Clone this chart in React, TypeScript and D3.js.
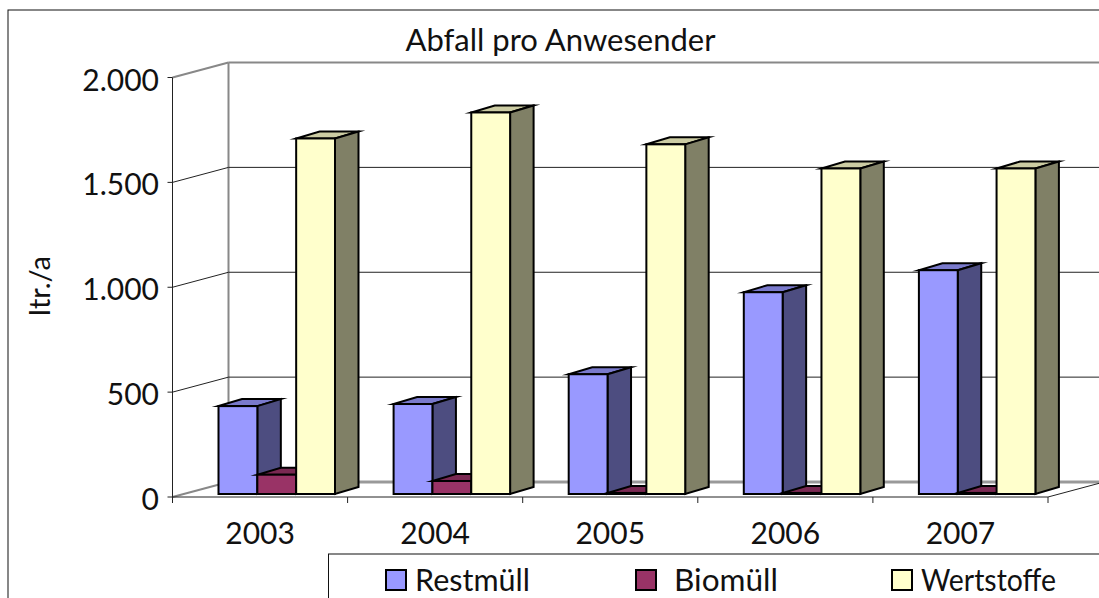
import React from 'react';
import * as d3 from 'd3';

const years = ['2003', '2004', '2005', '2006', '2007'];
const seriesNames = ['Restmüll', 'Biomüll', 'Wertstoffe'];
const restmuell = [419, 429, 571, 962, 1067];
const biomuell = [92, 62, 5, 5, 5];
const wertstoffe = [1695, 1819, 1667, 1552, 1552];
const yTicks = [0, 500, 1000, 1500, 2000];

const seriesValues = [restmuell, biomuell, wertstoffe];
const frontColors = ['#9999ff', '#993366', '#ffffcc'];
const sideColors = ['#4d4d80', '#4d1a33', '#808066'];
const topColors = ['#7a7acc', '#7a2952', '#cccca3'];

const W = 1099;
const H = 598;
const FONT = 'Lato, sans-serif';

// 3d offsets: back wall, and the bars sitting inside the floor
const wallDx = 56;
const wallDy = -15;
const barGapDy = -3;
const barDx = 23.5;
const barDy = -7;

const xScale = d3.scaleBand().domain(years).range([172.5, 1048]);
const seriesScale = d3.scaleBand().domain(seriesNames).range([46, 162.5]);
const yScale = d3.scaleLinear().domain([0, 2000]).range([497, 77.5]);
const fmt = d3.formatLocale({ decimal: ',', thousands: '.', grouping: [3], currency: ['', '€'] }).format(',d');

function Bar({ x, w, y, y0, i }: { x: number; w: number; y: number; y0: number; i: number }) {
  const pts = (p: number[][]) => p.map(d => d.join(',')).join(' ');
  return (
    <g stroke="#000" strokeWidth={2} strokeLinejoin="miter" strokeMiterlimit={10}>
      <polygon points={pts([[x, y], [x + w, y], [x + w + barDx, y + barDy], [x + barDx, y + barDy]])} fill={topColors[i]} />
      <polygon points={pts([[x + w, y], [x + w + barDx, y + barDy], [x + w + barDx, y0 + barDy], [x + w, y0]])} fill={sideColors[i]} />
      <rect x={x} y={y} width={w} height={y0 - y} fill={frontColors[i]} />
    </g>
  );
}

export default function App() {
  const x0 = xScale.range()[0];
  const x1 = xScale.range()[1];
  const y0 = yScale(0);
  const swatchX = [386, 636, 892];
  const labelX = [415, 674, 921];
  const labelW = [115, 104, 135];

  return (
    <svg width={W} height={H} style={{ position: 'absolute', left: 0, top: 0, background: '#fff' }} fontFamily={FONT} fill="#111">
      <rect x={8} y={10} width={1300} height={800} fill="#fff" stroke="#111" strokeWidth={1} />

      <text x={560.5} y={51} textAnchor="middle" fontSize={31}>Abfall pro Anwesender</text>

      {/* walls */}
      <line x1={x0} y1={y0} x2={x0 + wallDx} y2={y0 + wallDy} stroke="#888" strokeWidth={2} />
      <line x1={x0 + wallDx} y1={y0 + wallDy} x2={x1 + wallDx} y2={y0 + wallDy} stroke="#999" strokeWidth={3} />
      <line x1={x0 + wallDx} y1={yScale(2000) + wallDy} x2={x0 + wallDx} y2={y0 + wallDy} stroke="#888" strokeWidth={2} />
      <line x1={x0} y1={yScale(2000)} x2={x0 + wallDx} y2={yScale(2000) + wallDy} stroke="#888" strokeWidth={2} />
      <line x1={x0 + wallDx} y1={yScale(2000) + wallDy} x2={x1 + wallDx} y2={yScale(2000) + wallDy} stroke="#888" strokeWidth={2} />
      <line x1={x1} y1={y0} x2={x1 + wallDx} y2={y0 + wallDy} stroke="#222" strokeWidth={1} />

      {/* grid */}
      {yTicks.filter(t => t > 0 && t < 2000).map(t => (
        <g key={t} stroke="#222" strokeWidth={1}>
          <line x1={x0} y1={yScale(t)} x2={x0 + wallDx} y2={yScale(t) + wallDy} />
          <line x1={x0 + wallDx} y1={yScale(t) + wallDy} x2={x1 + wallDx} y2={yScale(t) + wallDy} />
        </g>
      ))}

      {/* axes */}
      <line x1={x0} y1={yScale(2000)} x2={x0} y2={y0} stroke="#222" strokeWidth={1} />
      <line x1={x0} y1={y0} x2={x1} y2={y0} stroke="#222" strokeWidth={1} />
      {yTicks.map(t => (
        <g key={t}>
          <line x1={x0 - 5} y1={yScale(t)} x2={x0} y2={yScale(t)} stroke="#222" />
          <text x={159} y={yScale(t) + 13} textAnchor="end" fontSize={30}>{fmt(t)}</text>
        </g>
      ))}
      {years.map(y => (
        <line key={y} x1={xScale(y)!} y1={y0} x2={xScale(y)!} y2={y0 + 6} stroke="#222" />
      ))}
      <line x1={x1} y1={y0} x2={x1} y2={y0 + 6} stroke="#222" />

      {/* bars, left to right so each one covers its neighbour's side */}
      {years.map((yr, c) => (
        <g key={yr}>
          {seriesNames.map((s, i) => (
            <Bar
              key={s}
              i={i}
              x={xScale(yr)! + seriesScale(s)!}
              w={seriesScale.bandwidth()}
              y={yScale(seriesValues[i][c]) + barGapDy}
              y0={y0 + barGapDy}
            />
          ))}
        </g>
      ))}

      {years.map(y => (
        <text key={y} x={xScale(y)! + xScale.bandwidth() / 2} y={544} textAnchor="middle" fontSize={30}>{y}</text>
      ))}

      <text transform="translate(50,286) rotate(-90)" textAnchor="middle" fontSize={29}>ltr./a</text>

      {/* legend */}
      <rect x={328.5} y={554} width={900} height={100} fill="#fff" stroke="#111" strokeWidth={1} />
      {seriesNames.map((s, i) => (
        <g key={s}>
          <rect x={swatchX[i]} y={570} width={20} height={20} fill={frontColors[i]} stroke="#000" strokeWidth={2} />
          <text x={labelX[i]} y={591} fontSize={30} textLength={labelW[i]} lengthAdjust="spacingAndGlyphs">{s}</text>
        </g>
      ))}
    </svg>
  );
}
